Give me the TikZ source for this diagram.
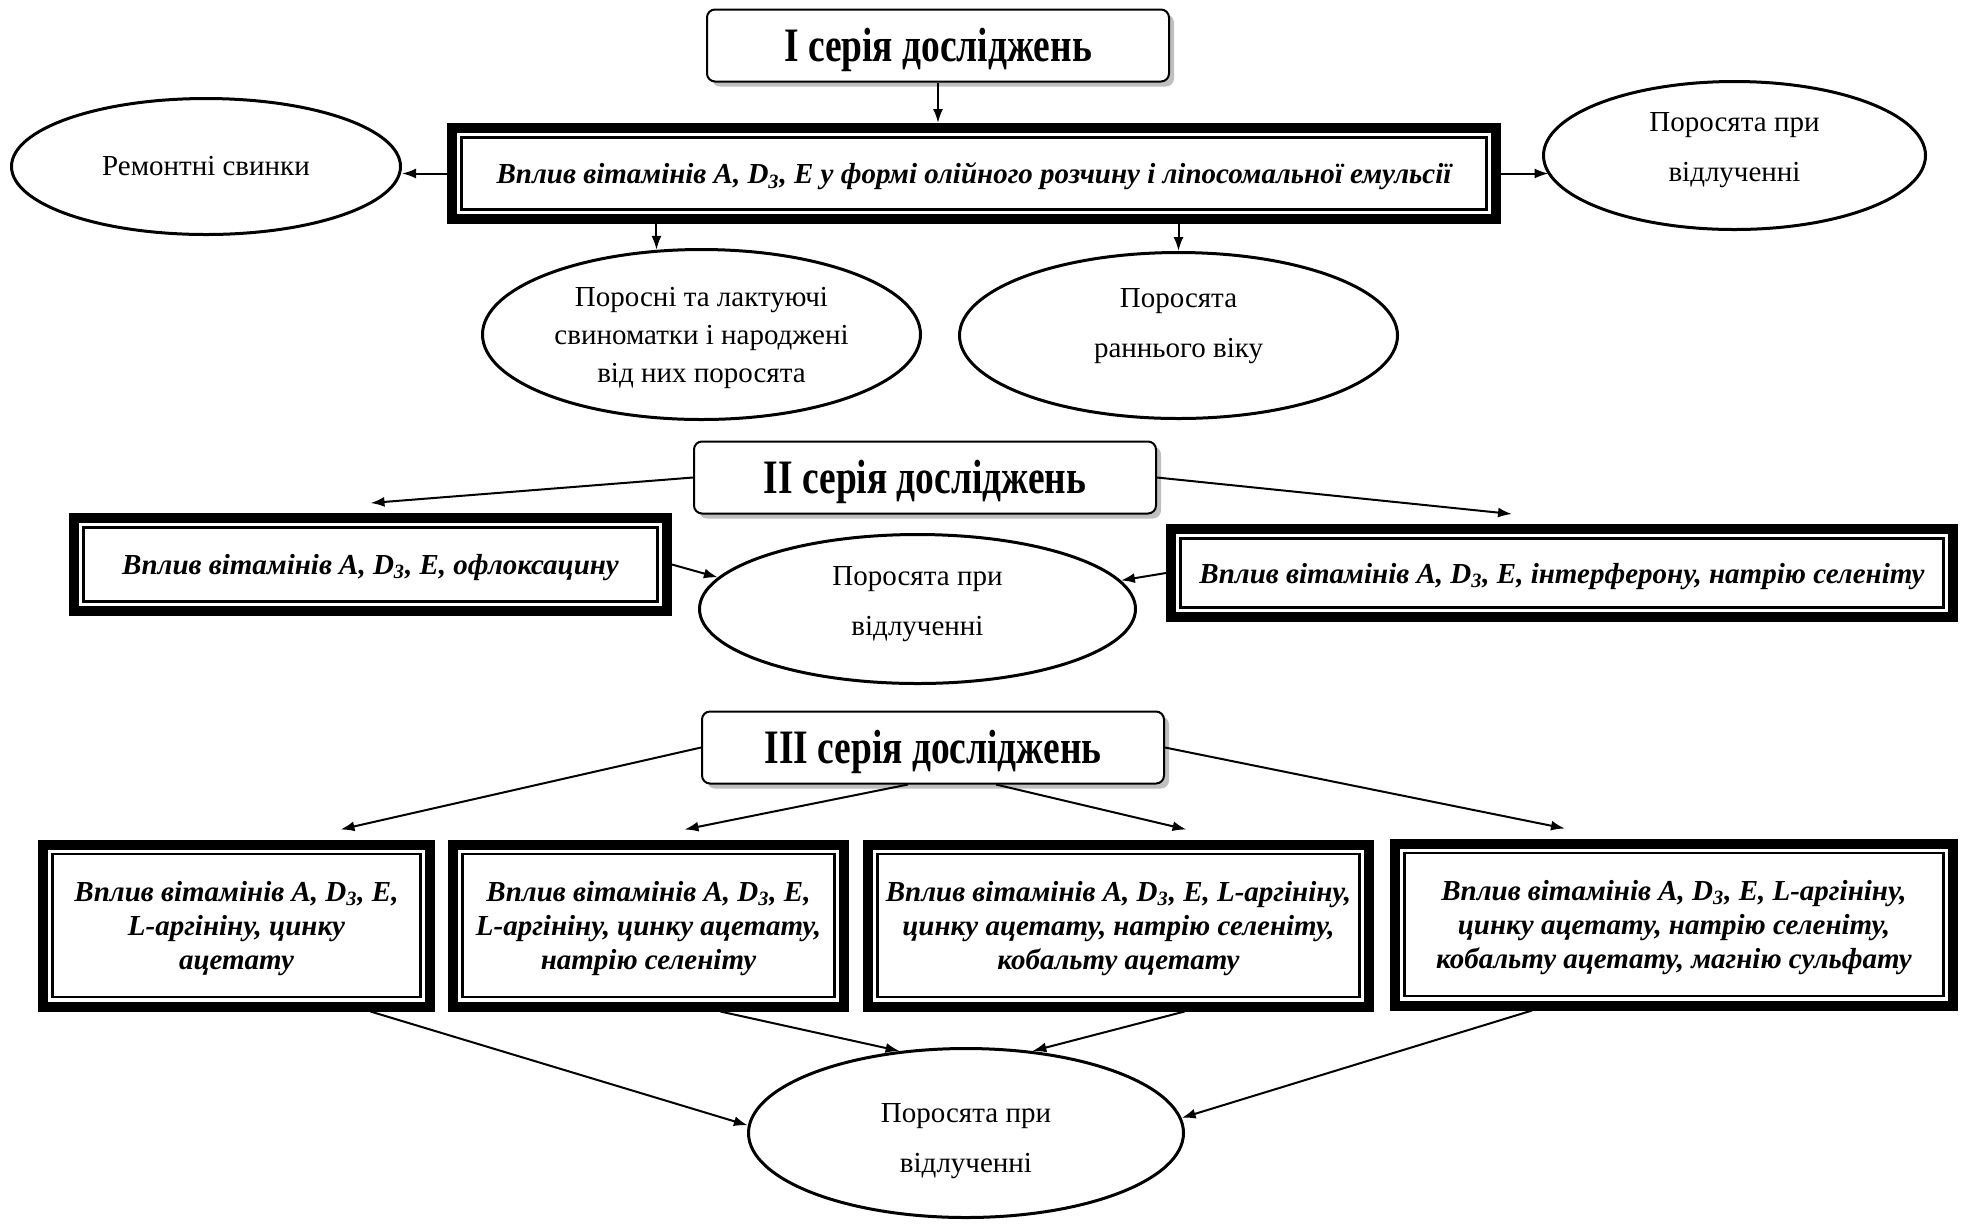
\documentclass[tikz,border=0pt]{standalone}
\usepackage{fontspec}
\setmainfont{Liberation Serif}
\newfontfamily\narrowserif[FakeStretch=0.78]{Liberation Serif}
\usetikzlibrary{arrows.meta, shadows, shapes.geometric}

\begin{document}
\begin{tikzpicture}[x=0.5pt, y=-0.5pt,
	>={Latex[length=7pt,width=5pt]},
	seria/.style={draw, line width=1pt, rounded corners=4pt, fill=white, minimum width=231pt, minimum height=36pt, inner sep=0pt, text depth=1pt, font=\narrowserif\fontsize{24}{28}\selectfont\bfseries, drop shadow={shadow xshift=2.5pt, shadow yshift=-2.5pt, fill=black!25, opacity=1}},
	vplyv/.style={draw, line width=5pt, outer sep=2.5pt, inner sep=0pt, align=center, text depth=0pt, font=\fontsize{14.5}{17}\selectfont\bfseries\itshape},
	grupa/.style={ellipse, draw, line width=1.5pt, inner sep=0pt, align=center, font=\fontsize{14.5}{25}\selectfont},
	strilka/.style={->, line width=1pt}]
	\useasboundingbox (0,0) rectangle (1966,1223);
	% I серія
	\node [seria] (tI) at (938,45.5) {І серія досліджень};
	\node [vplyv, minimum width=522pt, minimum height=45.5pt] (vA) at (974,173.5) {Вплив вітамінів A, D\textsubscript{3}, E у формі олійного розчину і ліпосомальної емульсії};
	\node [grupa, minimum width=194.5pt, minimum height=68pt, text depth=1pt] (eR) at (206,166.5) {Ремонтні свинки};
	\node [grupa, minimum width=191pt, minimum height=74pt, text depth=9pt] (eP1) at (1734.5,155.5) {Поросята при\\відлученні};
	\node [grupa, minimum width=219pt, minimum height=85pt, text depth=-1pt, font=\fontsize{14.5}{19}\selectfont] (eL) at (701.5,334.5) {Поросні та лактуючі\\свиноматки і народжені\\від них поросята};
	\node [grupa, minimum width=219pt, minimum height=83pt, text depth=13pt] (eE) at (1178.5,335.5) {Поросята\\раннього віку};
	\draw [strilka] (tI.south) -- (tI.south |- vA.north);
	\draw [strilka] (vA.west) -- (vA.west -| eR.east);
	\draw [strilka] (vA.east) -- (vA.east -| eP1.186);
	\draw [strilka] (vA.south -| eL.118) -- (eL.118);
	\draw [strilka] (vA.south -| eE.north) -- (eE.north);
	% II серія
	\node [seria] (tII) at (925,477.5) {ІІ серія досліджень};
	\node [vplyv, minimum width=296.5pt, minimum height=46.5pt] (vB1) at (370.5,564.5) {Вплив вітамінів A, D\textsubscript{3}, E, офлоксацину};
	\node [vplyv, minimum width=391pt, minimum height=44pt] (vB2) at (1562,573) {Вплив вітамінів A, D\textsubscript{3}, E, інтерферону, натрію селеніту};
	\node [grupa, minimum width=218pt, minimum height=74.5pt, text depth=8pt] (eP2) at (917.5,609) {Поросята при\\відлученні};
	\draw [strilka] (tII.west) -- ([yshift=5pt]vB1.north);
	\draw [strilka] (tII.east) -- ([xshift=-25pt,yshift=5pt]vB2.north);
	\draw [strilka] (vB1.east) -- (eP2.171);
	\draw [strilka] (vB2.west) -- (eP2.8);
	% III серія
	\node [seria] (tIII) at (933,747.5) {ІІІ серія досліджень};
	\node [vplyv, minimum width=193.5pt, minimum height=81pt] (vC1) at (236.5,925.5) {Вплив вітамінів A, D\textsubscript{3}, E,\\L-аргініну, цинку\\ацетату};
	\node [vplyv, minimum width=195.5pt, minimum height=81pt] (vC2) at (648.5,925.5) {Вплив вітамінів A, D\textsubscript{3}, E,\\L-аргініну, цинку ацетату,\\натрію селеніту};
	\node [vplyv, minimum width=250.5pt, minimum height=81pt] (vC3) at (1118.5,925.5) {Вплив вітамінів A, D\textsubscript{3}, E, L-аргініну,\\цинку ацетату, натрію селеніту,\\кобальту ацетату};
	\node [vplyv, minimum width=279pt, minimum height=81pt] (vC4) at (1674,924.5) {Вплив вітамінів A, D\textsubscript{3}, E, L-аргініну,\\цинку ацетату, натрію селеніту,\\кобальту ацетату, магнію сульфату};
	\node [grupa, minimum width=217.5pt, minimum height=84.5pt, text height=39.5pt, text depth=0pt] (eP3) at (966,1133) {Поросята при\\відлученні};
	\draw [strilka] (tIII.west) -- ([xshift=52pt,yshift=5pt]vC1.north);
	\draw [strilka] ([xshift=-12.5pt]tIII.south) -- ([xshift=18pt,yshift=5pt]vC2.north);
	\draw [strilka] ([xshift=31.5pt]tIII.south) -- ([xshift=34pt,yshift=5pt]vC3.north);
	\draw [strilka] (tIII.east) -- ([xshift=-54.5pt,yshift=5pt]vC4.north);
	\draw [strilka] ([xshift=67pt]vC1.south) -- (eP3.178);
	\draw [strilka] ([xshift=36pt]vC2.south) -- (eP3.129);
	\draw [strilka] ([xshift=33pt]vC3.south) -- (eP3.51);
	\draw [strilka] ([xshift=-71pt]vC4.south) -- (eP3.4);
	% inner frames
	\foreach \n in {vA, vB1, vB2, vC1, vC2, vC3, vC4}
		\draw [line width=1.25pt] ([shift={(7.25pt,-7.25pt)}]\n.north west) rectangle ([shift={(-7.25pt,7.25pt)}]\n.south east);
\end{tikzpicture}
\end{document}
